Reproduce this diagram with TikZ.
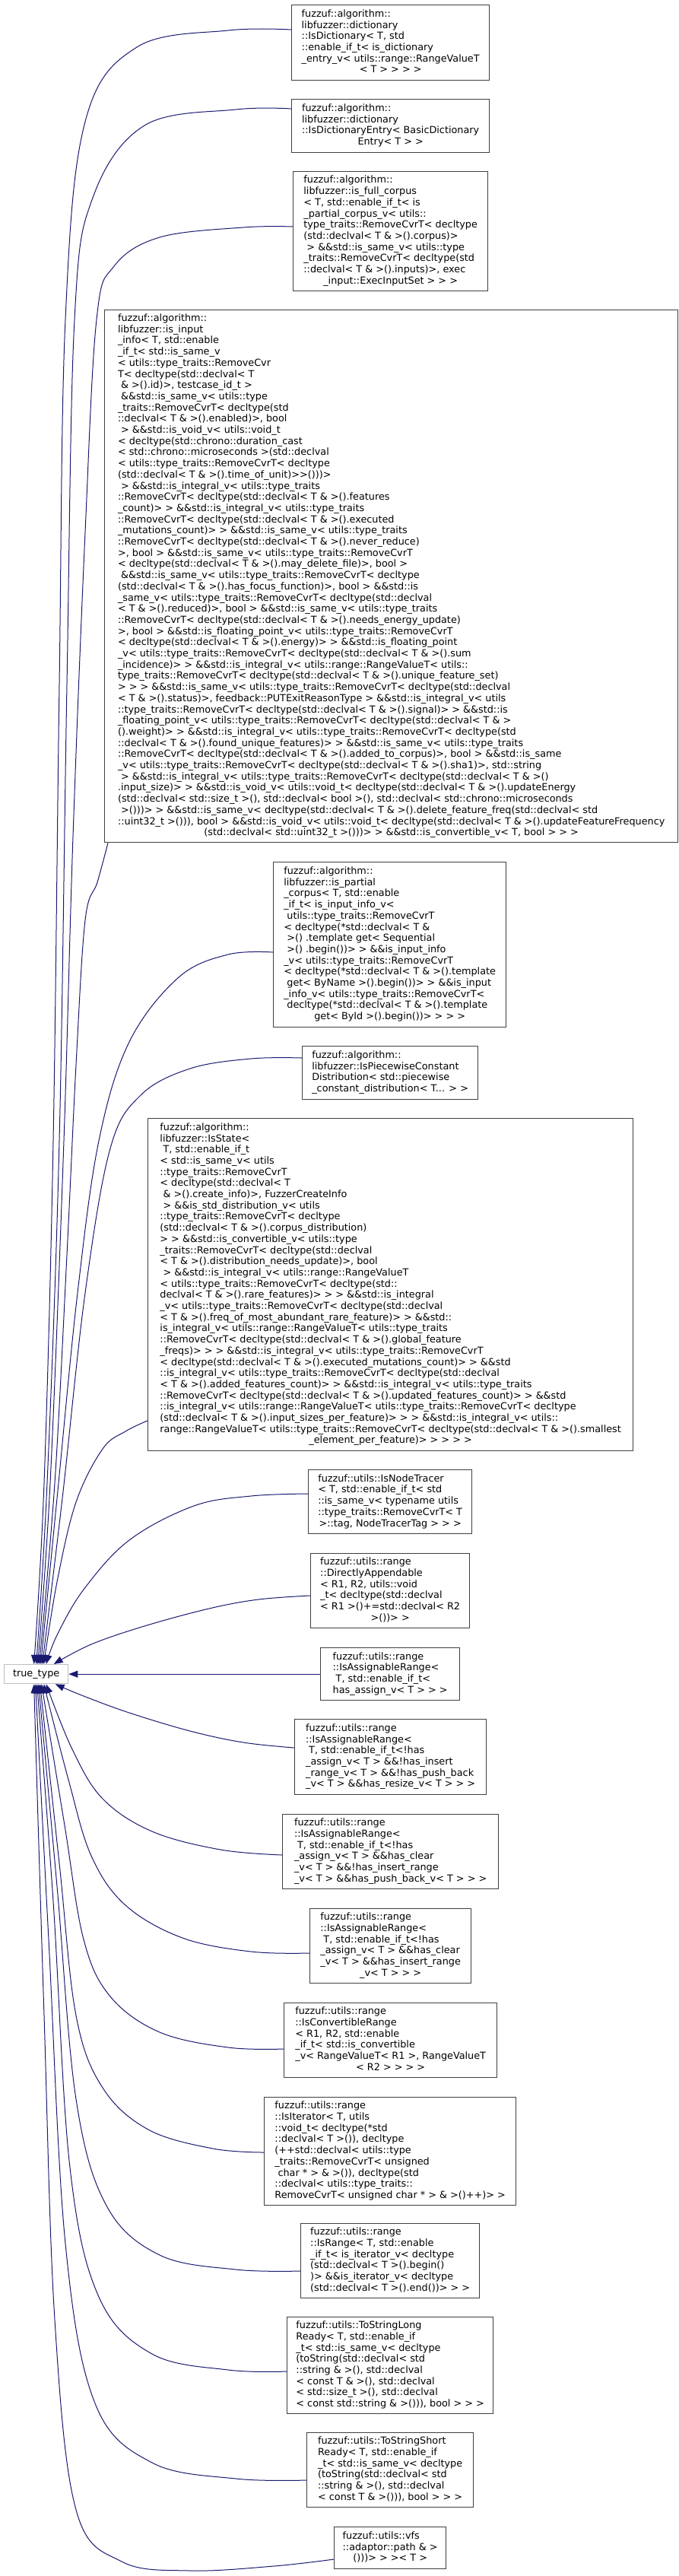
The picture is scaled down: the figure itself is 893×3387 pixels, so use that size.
\documentclass[tikz,border=0pt]{standalone}
\usepackage{fontspec}
\setmainfont{DejaVu Sans}[Ligatures=TeXOff]
\usetikzlibrary{arrows.meta}
\definecolor{edgeblue}{HTML}{191970}
\definecolor{boxgray}{HTML}{404040}
\definecolor{ttgray}{HTML}{BFBFBF}
\newcommand\lsp{\hspace*{0.318em}}
\newcommand\ctr[1]{\multicolumn{1}{@{}c@{}}{#1}}
\newcommand\lns[1]{\begin{tabular}{@{}l@{}}#1\end{tabular}}
\tikzset{
  cls/.style={draw=boxgray, fill=white, line width=1.3pt, inner sep=0pt, anchor=north west,
    font=\fontsize{12.8}{14.7}\selectfont},
  inh/.style={draw=edgeblue, line width=1pt, -{Triangle[length=12pt,width=9pt]}},
  sm/.style={smooth, tension=0.6},
}
\begin{document}
\begin{tikzpicture}[x=1pt,y=-1pt]
\useasboundingbox (0,0) rectangle (893,3387);

\node[cls, draw=ttgray, minimum width=84pt, minimum height=25pt] (tt) at (5,2188) {true\_type};

\node[cls, minimum width=260pt, minimum height=99pt] (b1) at (383,6) {\lns{fuzzuf::algorithm::\\
libfuzzer::dictionary\\
::IsDictionary< T, std\\
::enable\_if\_t< is\_dictionary\\
\_entry\_v< utils::range::RangeValueT\\
\ctr{< T > > > >}}};

\node[cls, minimum width=260pt, minimum height=70pt] (b2) at (383,130) {\lns{fuzzuf::algorithm::\\
libfuzzer::dictionary\\
::IsDictionaryEntry< BasicDictionary\\
\ctr{Entry< T > >}}};

\node[cls, minimum width=256pt, minimum height=157pt] (b3) at (385,225) {\lns{fuzzuf::algorithm::\\
libfuzzer::is\_full\_corpus\\
< T, std::enable\_if\_t< is\\
\_partial\_corpus\_v< utils::\\
type\_traits::RemoveCvrT< decltype\\
(std::declval< T \& >().corpus)>\\
\lsp> \&\&std::is\_same\_v< utils::type\\
\_traits::RemoveCvrT< decltype(std\\
::declval< T \& >().inputs)>, exec\\
\ctr{\_input::ExecInputSet > > >}}};

\node[cls, minimum width=754pt, minimum height=700pt] (b4) at (137,407) {\lns{fuzzuf::algorithm::\\
libfuzzer::is\_input\\
\_info< T, std::enable\\
\_if\_t< std::is\_same\_v\\
< utils::type\_traits::RemoveCvr\\
T< decltype(std::declval< T\\
\lsp\& >().id)>, testcase\_id\_t >\\
\lsp\&\&std::is\_same\_v< utils::type\\
\_traits::RemoveCvrT< decltype(std\\
::declval< T \& >().enabled)>, bool\\
\lsp> \&\&std::is\_void\_v< utils::void\_t\\
< decltype(std::chrono::duration\_cast\\
< std::chrono::microseconds >(std::declval\\
< utils::type\_traits::RemoveCvrT< decltype\\
(std::declval< T \& >().time\_of\_unit)>>()))>\\
\lsp> \&\&std::is\_integral\_v< utils::type\_traits\\
::RemoveCvrT< decltype(std::declval< T \& >().features\\
\_count)> > \&\&std::is\_integral\_v< utils::type\_traits\\
::RemoveCvrT< decltype(std::declval< T \& >().executed\\
\_mutations\_count)> > \&\&std::is\_same\_v< utils::type\_traits\\
::RemoveCvrT< decltype(std::declval< T \& >().never\_reduce)\\
>, bool > \&\&std::is\_same\_v< utils::type\_traits::RemoveCvrT\\
< decltype(std::declval< T \& >().may\_delete\_file)>, bool >\\
\lsp\&\&std::is\_same\_v< utils::type\_traits::RemoveCvrT< decltype\\
(std::declval< T \& >().has\_focus\_function)>, bool > \&\&std::is\\
\_same\_v< utils::type\_traits::RemoveCvrT< decltype(std::declval\\
< T \& >().reduced)>, bool > \&\&std::is\_same\_v< utils::type\_traits\\
::RemoveCvrT< decltype(std::declval< T \& >().needs\_energy\_update)\\
>, bool > \&\&std::is\_floating\_point\_v< utils::type\_traits::RemoveCvrT\\
< decltype(std::declval< T \& >().energy)> > \&\&std::is\_floating\_point\\
\_v< utils::type\_traits::RemoveCvrT< decltype(std::declval< T \& >().sum\\
\_incidence)> > \&\&std::is\_integral\_v< utils::range::RangeValueT< utils::\\
type\_traits::RemoveCvrT< decltype(std::declval< T \& >().unique\_feature\_set)\\
> > > \&\&std::is\_same\_v< utils::type\_traits::RemoveCvrT< decltype(std::declval\\
< T \& >().status)>, feedback::PUTExitReasonType > \&\&std::is\_integral\_v< utils\\
::type\_traits::RemoveCvrT< decltype(std::declval< T \& >().signal)> > \&\&std::is\\
\_floating\_point\_v< utils::type\_traits::RemoveCvrT< decltype(std::declval< T \& >\\
().weight)> > \&\&std::is\_integral\_v< utils::type\_traits::RemoveCvrT< decltype(std\\
::declval< T \& >().found\_unique\_features)> > \&\&std::is\_same\_v< utils::type\_traits\\
::RemoveCvrT< decltype(std::declval< T \& >().added\_to\_corpus)>, bool > \&\&std::is\_same\\
\_v< utils::type\_traits::RemoveCvrT< decltype(std::declval< T \& >().sha1)>, std::string\\
\lsp> \&\&std::is\_integral\_v< utils::type\_traits::RemoveCvrT< decltype(std::declval< T \& >()\\
.input\_size)> > \&\&std::is\_void\_v< utils::void\_t< decltype(std::declval< T \& >().updateEnergy\\
(std::declval< std::size\_t >(), std::declval< bool >(), std::declval< std::chrono::microseconds\\
\lsp>()))> > \&\&std::is\_same\_v< decltype(std::declval< T \& >().delete\_feature\_freq(std::declval< std\\
::uint32\_t >())), bool > \&\&std::is\_void\_v< utils::void\_t< decltype(std::declval< T \& >().updateFeatureFrequency\\
\ctr{(std::declval< std::uint32\_t >()))> > \&\&std::is\_convertible\_v< T, bool > > >}}};

\node[cls, minimum width=306pt, minimum height=217pt] (b5) at (359,1133) {\lns{fuzzuf::algorithm::\\
libfuzzer::is\_partial\\
\_corpus< T, std::enable\\
\_if\_t< is\_input\_info\_v<\\
\lsp utils::type\_traits::RemoveCvrT\\
< decltype(*std::declval< T \&\\
\lsp>() .template get< Sequential\\
\lsp>() .begin())> > \&\&is\_input\_info\\
\_v< utils::type\_traits::RemoveCvrT\\
< decltype(*std::declval< T \& >().template\\
\lsp get< ByName >().begin())> > \&\&is\_input\\
\_info\_v< utils::type\_traits::RemoveCvrT<\\
\lsp decltype(*std::declval< T \& >().template\\
\ctr{get< ById >().begin())> > > >}}};

\node[cls, minimum width=231pt, minimum height=70pt] (b6) at (397,1375) {\lns{fuzzuf::algorithm::\\
libfuzzer::IsPiecewiseConstant\\
Distribution< std::piecewise\\
\ctr{\_constant\_distribution< T... > >}}};

\node[cls, minimum width=638pt, minimum height=437pt] (b7) at (194,1470) {\lns{fuzzuf::algorithm::\\
libfuzzer::IsState<\\
\lsp T, std::enable\_if\_t\\
< std::is\_same\_v< utils\\
::type\_traits::RemoveCvrT\\
< decltype(std::declval< T\\
\lsp\& >().create\_info)>, FuzzerCreateInfo\\
\lsp> \&\&is\_std\_distribution\_v< utils\\
::type\_traits::RemoveCvrT< decltype\\
(std::declval< T \& >().corpus\_distribution)\\
> > \&\&std::is\_convertible\_v< utils::type\\
\_traits::RemoveCvrT< decltype(std::declval\\
< T \& >().distribution\_needs\_update)>, bool\\
\lsp> \&\&std::is\_integral\_v< utils::range::RangeValueT\\
< utils::type\_traits::RemoveCvrT< decltype(std::\\
declval< T \& >().rare\_features)> > > \&\&std::is\_integral\\
\_v< utils::type\_traits::RemoveCvrT< decltype(std::declval\\
< T \& >().freq\_of\_most\_abundant\_rare\_feature)> > \&\&std::\\
is\_integral\_v< utils::range::RangeValueT< utils::type\_traits\\
::RemoveCvrT< decltype(std::declval< T \& >().global\_feature\\
\_freqs)> > > \&\&std::is\_integral\_v< utils::type\_traits::RemoveCvrT\\
< decltype(std::declval< T \& >().executed\_mutations\_count)> > \&\&std\\
::is\_integral\_v< utils::type\_traits::RemoveCvrT< decltype(std::declval\\
< T \& >().added\_features\_count)> > \&\&std::is\_integral\_v< utils::type\_traits\\
::RemoveCvrT< decltype(std::declval< T \& >().updated\_features\_count)> > \&\&std\\
::is\_integral\_v< utils::range::RangeValueT< utils::type\_traits::RemoveCvrT< decltype\\
(std::declval< T \& >().input\_sizes\_per\_feature)> > > \&\&std::is\_integral\_v< utils::\\
range::RangeValueT< utils::type\_traits::RemoveCvrT< decltype(std::declval< T \& >().smallest\\
\ctr{\_element\_per\_feature)> > > > >}}};

\node[cls, minimum width=215pt, minimum height=84pt] (b8) at (405,1932) {\lns{fuzzuf::utils::IsNodeTracer\\
< T, std::enable\_if\_t< std\\
::is\_same\_v< typename utils\\
::type\_traits::RemoveCvrT< T\\
\ctr{>::tag, NodeTracerTag > > >}}};

\node[cls, minimum width=209pt, minimum height=98pt] (b9) at (408,2042) {\lns{fuzzuf::utils::range\\
::DirectlyAppendable\\
< R1, R2, utils::void\\
\_t< decltype(std::declval\\
< R1 >()+=std::declval< R2\\
\ctr{>())> >}}};

\node[cls, minimum width=183pt, minimum height=69pt] (b10) at (421,2166) {\lns{fuzzuf::utils::range\\
::IsAssignableRange<\\
\lsp T, std::enable\_if\_t<\\
\ctr{has\_assign\_v< T > > >}}};

\node[cls, minimum width=252pt, minimum height=99pt] (b11) at (387,2260) {\lns{fuzzuf::utils::range\\
::IsAssignableRange<\\
\lsp T, std::enable\_if\_t<!has\\
\_assign\_v< T > \&\&!has\_insert\\
\_range\_v< T > \&\&!has\_push\_back\\
\ctr{\_v< T > \&\&has\_resize\_v< T > > >}}};

\node[cls, minimum width=284pt, minimum height=98pt] (b12) at (371,2385) {\lns{fuzzuf::utils::range\\
::IsAssignableRange<\\
\lsp T, std::enable\_if\_t<!has\\
\_assign\_v< T > \&\&has\_clear\\
\_v< T > \&\&!has\_insert\_range\\
\ctr{\_v< T > \&\&has\_push\_back\_v< T > > >}}};

\node[cls, minimum width=212pt, minimum height=98pt] (b13) at (407,2509) {\lns{fuzzuf::utils::range\\
::IsAssignableRange<\\
\lsp T, std::enable\_if\_t<!has\\
\_assign\_v< T > \&\&has\_clear\\
\_v< T > \&\&has\_insert\_range\\
\ctr{\_v< T > > >}}};

\node[cls, minimum width=280pt, minimum height=98pt] (b14) at (373,2633) {\lns{fuzzuf::utils::range\\
::IsConvertibleRange\\
< R1, R2, std::enable\\
\_if\_t< std::is\_convertible\\
\_v< RangeValueT< R1 >, RangeValueT\\
\ctr{< R2 > > > >}}};

\node[cls, minimum width=331pt, minimum height=142pt] (b15) at (347,2757) {\lns{fuzzuf::utils::range\\
::IsIterator< T, utils\\
::void\_t< decltype(*std\\
::declval< T >()), decltype\\
(++std::declval< utils::type\\
\_traits::RemoveCvrT< unsigned\\
\lsp char * > \& >()), decltype(std\\
::declval< utils::type\_traits::\\
\ctr{RemoveCvrT< unsigned char * > \& >()++)> >}}};

\node[cls, minimum width=235pt, minimum height=98pt] (b16) at (395,2923) {\lns{fuzzuf::utils::range\\
::IsRange< T, std::enable\\
\_if\_t< is\_iterator\_v< decltype\\
(std::declval< T >().begin()\\
)> \&\&is\_iterator\_v< decltype\\
\ctr{(std::declval< T >().end())> > >}}};

\node[cls, minimum width=271pt, minimum height=127pt] (b17) at (377,3046) {\lns{fuzzuf::utils::ToStringLong\\
Ready< T, std::enable\_if\\
\_t< std::is\_same\_v< decltype\\
(toString(std::declval< std\\
::string \& >(), std::declval\\
< const T \& >(), std::declval\\
< std::size\_t >(), std::declval\\
\ctr{< const std::string \& >())), bool > > >}}};

\node[cls, minimum width=219pt, minimum height=98pt] (b18) at (403,3198) {\lns{fuzzuf::utils::ToStringShort\\
Ready< T, std::enable\_if\\
\_t< std::is\_same\_v< decltype\\
(toString(std::declval< std\\
::string \& >(), std::declval\\
\ctr{< const T \& >())), bool > > >}}};

\node[cls, minimum width=147pt, minimum height=55pt] (b19) at (439,3322) {\lns{fuzzuf::utils::vfs\\
::adaptor::path \& >\\
\ctr{()))> > >< T >}}};

% connectors (arrow at true_type)
\draw[inh] plot[sm] coordinates {([yshift=-33pt]b1.north west) (300,40) (180,62) (112,160) (86,420) (78,900) (70,1500) (58,1950) ([xshift=-3pt]tt.north)};
\draw[inh] plot[sm] coordinates {([yshift=-13pt]b2.north west) (310,144) (190,165) (122,260) (98,420) (88,900) (78,1500) (62,1950) (tt.north)};
\draw[inh] plot[sm] coordinates {([yshift=-73pt]b3.north west) (320,299) (210,312) (150,350) (127,420) (112,700) (96,1100) (84,1500) (66,1950) ([xshift=2pt]tt.north)};
\draw[inh] plot[sm] coordinates {([xshift=5pt]b4.south west) (128,1160) (112,1210) (100,1400) (88,1650) (72,1950) ([xshift=4pt]tt.north)};
\draw[inh] plot[sm] coordinates {([yshift=-119pt]b5.north west) (300,1255) (235,1285) (170,1370) (130,1500) (102,1700) (76,1960) ([xshift=6pt]tt.north)};
\draw[inh] plot[sm] coordinates {([yshift=-16pt]b6.north west) (330,1392) (250,1405) (185,1440) (145,1510) (112,1700) (82,1970) ([xshift=8pt]tt.north)};
\draw[inh] plot[sm] coordinates {([yshift=-398pt]b7.north west) (165,1882) (135,1905) (100,1975) (75,2080) ([xshift=10pt]tt.north)};
\draw[inh] plot[sm] coordinates {([yshift=-32pt]b8.north west) (330,1967) (255,1980) (170,2025) (110,2090) (75,2150) ([xshift=13pt]tt.north)};
\draw[inh] plot[sm] coordinates {([yshift=-56pt]b9.north west) (340,2103) (275,2115) (190,2138) (120,2162) ([xshift=23pt]tt.north)};
\draw[inh] (b10.west) -- (tt.east);
\draw[inh] plot[sm] coordinates {([yshift=-38pt]b11.north west) (320,2291) (250,2276) (170,2252) (110,2230) ([xshift=25pt]tt.south)};
\draw[inh] plot[sm] coordinates {([yshift=-54pt]b12.north west) (290,2432) (200,2408) (135,2365) (95,2300) ([xshift=13pt]tt.south)};
\draw[inh] plot[sm] coordinates {([yshift=-59pt]b13.north west) (330,2566) (240,2548) (165,2505) (120,2440) (90,2340) ([xshift=10pt]tt.south)};
\draw[inh] plot[sm] coordinates {([yshift=-61pt]b14.north west) (300,2692) (210,2672) (145,2625) (110,2550) (85,2400) ([xshift=7pt]tt.south)};
\draw[inh] plot[sm] coordinates {([yshift=-73pt]b15.north west) (280,2825) (195,2800) (135,2745) (100,2650) (78,2450) ([xshift=5pt]tt.south)};
\draw[inh] plot[sm] coordinates {([yshift=-63pt]b16.north west) (310,2984) (210,2965) (140,2900) (100,2760) (75,2480) ([xshift=3pt]tt.south)};
\draw[inh] plot[sm] coordinates {([yshift=-72pt]b17.north west) (300,3116) (200,3095) (130,3020) (92,2850) (70,2500) ([xshift=1pt]tt.south)};
\draw[inh] plot[sm] coordinates {([yshift=-63pt]b18.north west) (310,3259) (200,3238) (125,3160) (86,2950) (64,2550) ([xshift=-1pt]tt.south)};
\draw[inh] plot[sm] coordinates {([yshift=-43pt]b19.north west) (360,3374) (250,3380) (160,3368) (100,3300) (72,3050) (58,2650) ([xshift=-3pt]tt.south)};
\end{tikzpicture}
\end{document}
